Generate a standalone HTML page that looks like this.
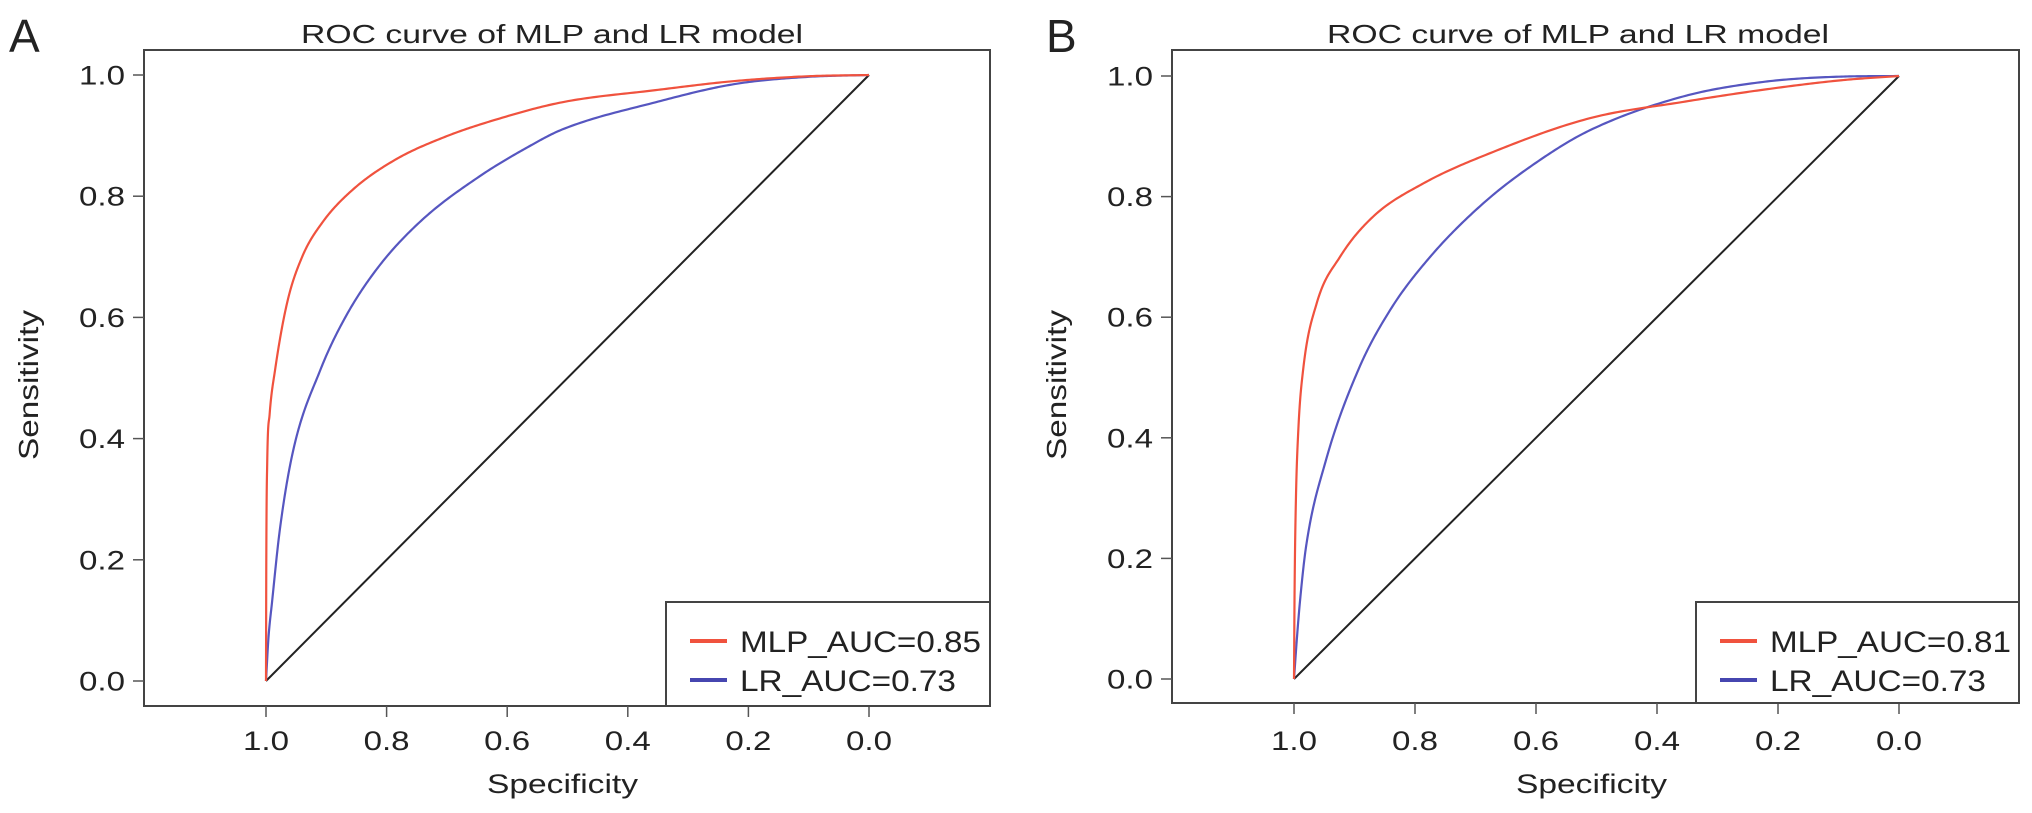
<!DOCTYPE html>
<html><head><meta charset="utf-8"><style>
html,body{margin:0;padding:0;background:#fff}
svg{display:block}
text{font-family:"Liberation Sans",Arial,sans-serif;fill:#222}
</style></head><body>
<svg id="fig" width="2032" height="813" viewBox="0 0 2032 813" xmlns="http://www.w3.org/2000/svg"></svg>
<script>
const xTicks = [1.0, 0.8, 0.6, 0.4, 0.2, 0.0];
const xTickLabels = ["1.0","0.8","0.6","0.4","0.2","0.0"];
const yTicks = [0.0, 0.2, 0.4, 0.6, 0.8, 1.0];
const yTickLabels = ["0.0","0.2","0.4","0.6","0.8","1.0"];
const panelLabels = ["A","B"];
const legendLabelsA = ["MLP_AUC=0.85","LR_AUC=0.73"];
const legendLabelsB = ["MLP_AUC=0.81","LR_AUC=0.73"];
// series: false positive rate (1 - specificity) and sensitivity
const aMlpFpr = [0,0.0005,0.002,0.006,0.015,0.035,0.06,0.093,0.143,0.214,0.297,0.38,0.491,0.646,0.777,0.9,1];
const aMlpSens = [0,0.2,0.36,0.44,0.513,0.624,0.70,0.756,0.81,0.86,0.898,0.926,0.955,0.975,0.99,0.998,1];
const aLrFpr = [0,0.004,0.01,0.023,0.045,0.09,0.132,0.187,0.259,0.353,0.436,0.491,0.646,0.777,0.9,1];
const aLrSens = [0,0.07,0.13,0.25,0.38,0.513,0.601,0.684,0.761,0.832,0.882,0.91,0.955,0.985,0.997,1];
const bMlpFpr = [0,0.001,0.003,0.007,0.015,0.0375,0.076,0.131,0.214,0.324,0.489,0.643,0.774,0.905,1];
const bMlpSens = [0,0.15,0.29,0.41,0.512,0.623,0.70,0.767,0.822,0.872,0.93,0.957,0.977,0.993,1];
const bLrFpr = [0,0.005,0.01,0.02,0.052,0.106,0.159,0.225,0.313,0.407,0.489,0.643,0.774,0.905,1];
const bLrSens = [0,0.07,0.13,0.22,0.36,0.512,0.612,0.70,0.789,0.861,0.91,0.966,0.99,0.999,1];

const NS = "http://www.w3.org/2000/svg";
const svg = document.getElementById('fig');
function mk(tag, attrs, parent){
  const e = document.createElementNS(NS, tag);
  for (const k in attrs) e.setAttribute(k, attrs[k]);
  (parent||svg).appendChild(e);
  return e;
}
function monotone(xs, ys){
  const n = xs.length, d = [], m = [];
  for (let i=0;i<n-1;i++) d.push((ys[i+1]-ys[i])/(xs[i+1]-xs[i]));
  m.push(d[0]);
  for (let i=1;i<n-1;i++) m.push(d[i-1]*d[i]<=0?0:(d[i-1]+d[i])/2);
  m.push(d[n-2]);
  for (let i=0;i<n-1;i++){
    if (d[i]===0){m[i]=0;m[i+1]=0;continue;}
    const a=m[i]/d[i], b=m[i+1]/d[i], s=a*a+b*b;
    if (s>9){const t=3/Math.sqrt(s); m[i]=t*a*d[i]; m[i+1]=t*b*d[i];}
  }
  const pts=[];
  for (let i=0;i<n-1;i++){
    const h=xs[i+1]-xs[i];
    for (let k=0;k<30;k++){
      const t=k/30, t2=t*t, t3=t2*t;
      const y=(2*t3-3*t2+1)*ys[i]+(t3-2*t2+t)*h*m[i]+(-2*t3+3*t2)*ys[i+1]+(t3-t2)*h*m[i+1];
      pts.push([xs[i]+t*h, y]);
    }
  }
  pts.push([xs[n-1], ys[n-1]]);
  return pts;
}

function panel(cfg){
  const g = mk('g', {});
  
  
  const X = spec => cfg.x0 + (1 - spec) * (cfg.x1 - cfg.x0);
  const Y = v => cfg.y0 - v * (cfg.y0 - cfg.y1);

  const lbl = mk('text', {x: cfg.lx, y: 52, 'font-size': 46}, g);
  lbl.textContent = cfg.label;
  
  

  const title = mk('text', {x: cfg.tx, y: 43, 'font-size': 26, 'text-anchor': 'middle', textLength: 502, lengthAdjust: 'spacingAndGlyphs'}, g);
  title.textContent = 'ROC curve of MLP and LR model';
  
  

  const box = mk('rect', {x: cfg.bl, y: 50, width: cfg.br - cfg.bl, height: cfg.bb - 50, fill: 'none', stroke: '#444', 'stroke-width': 2}, g);
  
  

  xTicks.forEach((t, i) => {
    const px = X(t);
    const tk = mk('line', {x1: px, x2: px, y1: cfg.bb, y2: cfg.bb + 11, stroke: '#555', 'stroke-width': 1.5}, g);
    
    
    const tl = mk('text', {x: px, y: 750, 'font-size': 27, 'text-anchor': 'middle', textLength: 46, lengthAdjust: 'spacingAndGlyphs'}, g);
    tl.textContent = xTickLabels[i];
    
    
  });
  yTicks.forEach((t, i) => {
    const py = Y(t);
    const tk = mk('line', {x1: cfg.bl - 11, x2: cfg.bl, y1: py, y2: py, stroke: '#555', 'stroke-width': 1.5}, g);
    
    
    const tl = mk('text', {x: cfg.bl - 19, y: py + 9.5, 'font-size': 27, 'text-anchor': 'end', textLength: 46, lengthAdjust: 'spacingAndGlyphs'}, g);
    tl.textContent = yTickLabels[i];
    
    
  });

  const xt = mk('text', {x: (cfg.x0 + cfg.x1) / 2 - 5, y: 793, 'font-size': 27, 'text-anchor': 'middle', textLength: 151, lengthAdjust: 'spacingAndGlyphs'}, g);
  xt.textContent = 'Specificity';
  
  
  const yt = mk('text', {x: 0, y: 0, 'font-size': 28, 'text-anchor': 'middle', textLength: 150, lengthAdjust: 'spacingAndGlyphs', transform: `translate(${cfg.yx},385) rotate(-90)`}, g);
  yt.textContent = 'Sensitivity';
  
  

  const diag = mk('line', {x1: X(1), y1: Y(0), x2: X(0), y2: Y(1), stroke: '#222', 'stroke-width': 2}, g);
  
  

  const series = [
    {fpr: cfg.lrF, sens: cfg.lrS, color: '#5656c0', name: 'lr-roc-curve'},
    {fpr: cfg.mlpF, sens: cfg.mlpS, color: '#f0523e', name: 'mlp-roc-curve'}
  ];
  series.forEach(s => {
    const pts = monotone(s.fpr, s.sens);
    const d = pts.map((p, i) => (i ? 'L' : 'M') + X(1 - p[0]).toFixed(2) + ',' + Y(Math.min(1, Math.max(0, p[1]))).toFixed(2)).join('');
    const path = mk('path', {d: d, fill: 'none', stroke: s.color, 'stroke-width': 2.2}, g);
    
    
  });

  const leg = mk('g', {}, g);
  
  
  const lr = mk('rect', {x: cfg.legX, y: 602, width: cfg.br - cfg.legX, height: cfg.bb - 602, fill: '#fff', stroke: '#444', 'stroke-width': 2}, leg);
  
  
  const colors = ['#f0523e', '#4646b0'];
  const widths = [241, 216];
  cfg.legend.forEach((t, i) => {
    const yy = [641, 680][i];
    const ln = mk('line', {x1: cfg.legX + 24, x2: cfg.legX + 61, y1: yy, y2: yy, stroke: colors[i], 'stroke-width': 4}, leg);
    
    
    const tx = mk('text', {x: cfg.legX + 74, y: yy + 11, 'font-size': 30, textLength: widths[i], lengthAdjust: 'spacingAndGlyphs'}, leg);
    tx.textContent = t;
    
    
  });
}

panel({name: 'panel-a', label: panelLabels[0], lx: 9, tx: 552, bl: 144, br: 990, bb: 706,
  x0: 266, x1: 869, y0: 681, y1: 75, yx: 38, legX: 666,
  mlpF: aMlpFpr, mlpS: aMlpSens, lrF: aLrFpr, lrS: aLrSens, legend: legendLabelsA});
panel({name: 'panel-b', label: panelLabels[1], lx: 1046, tx: 1578, bl: 1172, br: 2019, bb: 703,
  x0: 1294, x1: 1899, y0: 679, y1: 76, yx: 1066, legX: 1696,
  mlpF: bMlpFpr, mlpS: bMlpSens, lrF: bLrFpr, lrS: bLrSens, legend: legendLabelsB});
</script>
</body></html>
